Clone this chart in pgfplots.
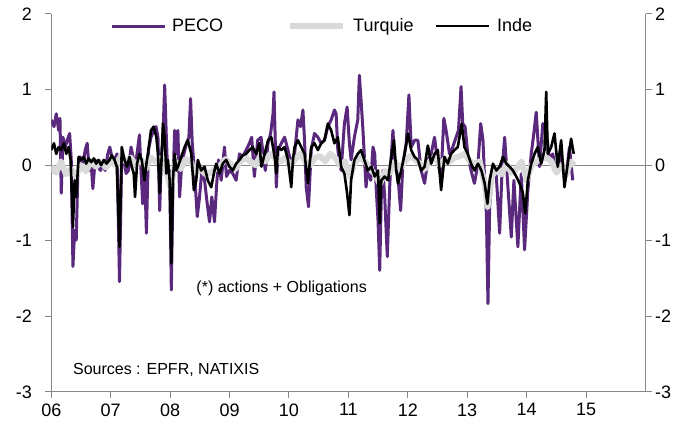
\documentclass[border=0pt]{standalone}
\usepackage{pgfplots}
\pgfplotsset{compat=1.18}
\usepackage{pgfplotstable}
\usepackage{fontspec}
\setmainfont{Liberation Sans}
\definecolor{peco}{RGB}{90,40,125}
\definecolor{turq}{RGB}{217,217,217}
\definecolor{axgray}{RGB}{134,134,134}

% x column: horizontal position (px), converted to years below
\pgfplotstableread{
px v
51.3 0.60
54 0.51
56.3 0.68
58.7 0.46
60 0.62
61.3 -0.37
63 0.37
65.3 0.24
67.3 0.33
69.7 0.42
71.3 0.07
73 -1.34
74.7 -0.86
76.3 -0.99
78 -0.07
80.3 0.11
83 0.02
85.3 0.20
87.3 0.29
89.3 -0.07
91.3 0.02
93 -0.31
95.3 0.07
98 -0.02
100.7 -0.07
103 0.02
105.3 -0.07
108 0.15
110 0.24
112 0.11
114.7 0.07
117.3 0.15
119.7 -1.54
122 0.15
124 0.11
126.3 -0.11
128.7 -0.07
131.3 0.24
133.3 0.11
135.3 -0.02
137.3 0.15
139.7 0.40
141.3 -0.07
143 -0.51
144.7 0.02
146.7 -0.90
148.7 0.20
151.3 0.37
154 0.46
156.3 0.51
158.3 0.37
160 -0.60
161.7 0.11
163.3 0.37
165 1.06
166.7 0.37
168.3 -0.20
170 -0.07
171.7 -1.65
173.3 -0.29
175 0.46
176.7 0.15
178.3 0.46
180 -0.42
181.7 -0.07
184.3 0.15
187 0.29
189.3 0.37
191 0.88
192.7 0.29
195 -0.11
197.7 -0.68
200 -0.42
202.3 -0.07
205 -0.20
207.7 -0.51
210 -0.75
212.3 -0.42
215 -0.75
217 -0.29
219 0.07
221.7 -0.20
225 0.24
227 -0.15
230 -0.07
233.3 -0.11
236.7 -0.20
240 0.15
243.3 0.11
246.7 0.20
250 0.29
252.3 0.37
255 -0.15
258.3 0.33
261.7 0.37
263.7 0.15
266 -0.07
268.7 0.29
271.3 0.42
273.7 0.68
274.7 0.97
276 0.29
277 -0.29
278.7 0.20
282 0.29
285.3 0.37
288.7 0.20
292 0.02
295.3 0.15
298.7 0.60
301.3 0.51
303.7 0.73
305.3 0.33
307 -0.29
309.3 -0.55
312 0.20
315.3 0.42
318.7 0.37
322 0.29
325.3 0.33
328.7 0.51
332 0.60
335.3 0.73
337 0.68
338.7 0.20
342 -0.07
345.3 0.55
348 0.77
350.3 0.29
352 0.07
355.3 0.37
358.7 0.60
360.3 1.19
362 0.86
363.7 0.51
367 -0.29
369 -0.02
371.7 -0.20
374 0.24
375.7 0.15
377.3 -0.33
379 -0.73
380.7 -1.39
382.3 -0.42
384 -0.07
385.7 -0.42
388.3 -1.21
390.7 -0.29
392.3 0.11
394 0.46
395.7 0.02
399 -0.15
401.7 -0.60
404 0.02
407.3 0.29
410 0.93
412.3 0.24
415.7 0.33
419 0.33
422.3 -0.07
425.7 -0.24
429 0.07
432.3 0.15
435.7 0.37
439 0.02
442.3 -0.15
445 0.62
447.3 0.46
450.7 0.15
454 0.24
457.3 0.37
459.7 0.46
462.3 1.04
464 0.55
466.3 0.51
469 0.15
472.3 -0.07
475.7 -0.24
479.3 0.02
482 0.55
484.3 0.33
486 -0.20
487.7 -0.64
489.3 -1.83
491 -0.55
494.3 -0.02
497.7 -0.15
501 -0.90
503.3 -0.11
506 0.37
509.3 -0.29
512.7 -0.95
515.3 -0.20
519.3 -1.08
522.7 -0.11
526 -1.12
529.3 -0.33
532.7 0.15
535.3 0.42
537.7 0.70
541 -0.02
544.3 0.55
547.7 0.46
551 0.07
554.3 0.15
557.7 -0.11
561 0.11
564.3 0.02
567.7 -0.15
571 0.24
574.3 -0.20
}\pecotable

\pgfplotstableread{
px v
51 -0.02
56 -0.10
61 0.05
66 -0.12
71 -0.05
76 -0.15
81 0.00
86 -0.08
91 0.05
96 -0.02
101 0.04
106 -0.03
111 0.05
116 0.00
121 0.12
126 0.05
131 0.10
136 0.00
141 0.08
146 -0.05
151 0.10
156 0.05
161 0.10
166 -0.05
171 -0.30
176 0.05
181 -0.05
186 0.08
191 0.05
196 -0.10
201 -0.05
206 -0.12
211 -0.10
216 -0.05
221 0.00
226 0.08
231 0.02
236 -0.05
241 0.05
246 0.10
251 0.05
256 0.00
261 0.12
266 0.05
271 0.15
276 0.10
281 0.05
286 0.10
291 0.00
296 0.08
301 0.15
306 0.05
311 0.00
316 0.10
321 0.12
326 0.05
331 0.15
336 0.10
341 0.00
346 0.05
351 -0.15
356 0.05
361 0.10
366 0.05
371 -0.05
376 -0.12
381 -0.25
386 -0.08
391 -0.10
396 0.05
401 -0.05
406 0.05
411 0.12
416 0.08
421 0.02
426 -0.05
431 0.05
436 0.10
441 0.00
446 0.08
451 0.05
456 0.10
461 0.12
466 0.15
471 0.05
476 0.02
481 0.05
486 -0.25
489 -0.55
493 -0.15
498 -0.05
503 -0.12
508 0.02
513 -0.10
518 -0.05
523 0.05
528 -0.20
533 0.00
538 0.05
543 0.08
548 0.10
553 0.05
558 -0.10
563 0.00
568 -0.12
572 0.05
576 0.00
}\turqtable

\pgfplotstableread{
px v
51.3 0.20
54 0.29
56.3 0.15
58.7 0.24
61.3 0.20
64 0.29
66.3 0.15
68.7 0.24
70.7 0.07
73 -0.82
74.7 -0.20
76.3 -0.42
78.7 0.11
81.3 0.07
84 0.11
86.3 0.02
88.7 0.09
91.3 0.04
94 0.09
96.3 0.02
98.7 0.07
101.3 0.00
104 0.07
106.7 0.02
109.7 0.07
112 0.13
114.7 0.07
117 -0.02
119.7 -1.08
122 0.24
124.7 0.07
127.3 -0.02
129.7 0.11
132 -0.02
134 -0.11
135.3 -0.42
137.3 0.02
139.7 0.15
142 0.07
144.7 -0.20
146.7 0.02
148.7 0.20
151.3 0.46
154 0.51
156.7 0.37
158.3 0.15
160 -0.37
161.7 0.02
163.3 0.55
165 0.37
166.7 -0.11
168.3 0.07
170 -0.20
171.7 -1.30
173.3 -0.20
175 0.15
176.7 -0.07
178.3 -0.02
181.7 0.11
185 0.24
188.3 0.33
191.7 0.15
194.3 -0.33
196.7 -0.20
198.3 0.07
201.7 -0.07
205 -0.02
208.3 -0.20
211.7 -0.29
215 -0.07
216.7 0.02
220 -0.11
223.3 0.02
226.7 0.07
230 -0.02
233.3 -0.07
236.7 0.02
240 0.07
243.3 0.13
246.7 0.15
250 0.20
253.3 0.24
256.7 0.15
260 0.29
262 -0.02
265.3 0.15
268.7 0.33
272 0.37
275.3 0.11
277 -0.11
278.7 0.24
282 0.20
285.3 0.24
288.7 0.07
292 -0.29
293.7 0.07
295.3 0.24
298.7 0.33
302 0.24
305.3 0.15
308.7 -0.24
312 0.24
315.3 0.29
318.7 0.20
322 0.29
325.3 0.33
328.7 0.55
332 0.46
335.3 0.29
338.7 0.37
342 -0.02
345.3 -0.11
348 -0.37
350.3 -0.66
352 -0.20
355.3 0.07
358.7 0.15
362 0.20
365.3 0.07
368.7 -0.07
372.3 -0.02
375.7 -0.15
379 -0.07
380.7 -0.77
382.3 -0.20
385.7 -0.15
389 -0.20
392.3 0.11
395 0.33
397.3 -0.07
399 -0.24
402.3 -0.07
405.7 0.15
409 0.42
412.3 0.20
415.7 0.11
419 0.07
422.3 -0.07
425.7 -0.02
429 0.26
432.3 0.02
435.7 0.15
439 0.20
442.3 -0.33
445.7 0.11
449 0.02
452.3 0.15
455.7 0.20
459 0.24
463 0.55
465.7 0.24
469 0.15
472.3 0.02
475.7 -0.07
479.3 0.02
482.7 -0.07
486 -0.24
488.7 -0.51
491 -0.20
494.3 0.02
497.7 -0.07
501 -0.02
504.3 0.11
507.7 0.02
511 -0.02
514.3 -0.07
517.7 -0.15
521 -0.24
524.3 -0.37
526.7 -0.64
529.3 -0.20
532.7 0.02
536 0.15
539.3 0.24
542.7 0.02
546 0.20
547.7 0.97
549.3 0.15
552.7 0.24
556 0.42
559.3 -0.02
562.7 0.33
566 -0.29
569.3 0.02
572.7 0.35
575.3 0.15
}\indetable

\begin{document}
\begin{tikzpicture}
\useasboundingbox (-51.3pt,-38pt) rectangle (639.7pt,392pt);
\pgfplotsset{common/.style={
  at={(0pt,0pt)}, anchor=south west,
  scale only axis, width=594.2pt, height=378pt,
  xmin=2006, xmax=2016, ymin=-3, ymax=2,
  ytick={-3,-2,-1,0,1,2},
  tick align=outside, major tick length=6pt,
  axis line style={axgray, line width=1pt},
  every tick/.style={axgray, line width=1pt},
  tick label style={font=\fontsize{18}{18}\selectfont, text=black},
  /pgf/number format/assume math mode=true,
}}
\begin{axis}[common,
  axis x line*=bottom, axis y line*=left,
  xtick={2006,2007,2008,2009,2010,2011,2012,2013,2014,2015},
  xticklabels={06,07,08,09,10,11,12,13,14,15},
  yticklabel style={xshift=-10pt},
  xticklabel style={yshift=-2pt},
  legend columns=3,
  legend style={at={(0.0988,0.968)}, anchor=west, draw=none, fill=none,
    inner sep=0pt, font=\fontsize{18}{18}\selectfont,
    /tikz/column 1/.style={column sep=4pt},
    /tikz/column 2/.style={column sep=62pt},
    /tikz/column 3/.style={column sep=5pt},
    /tikz/column 4/.style={column sep=19pt},
    /tikz/column 5/.style={column sep=5pt}},
  legend image code/.code={\draw[#1] (0pt,0pt) -- (53pt,0pt);},
  line join=round,
]
\addplot[axgray, line width=1pt, forget plot] coordinates {(2006,0) (2016,0)};
\addplot[peco, line width=3pt] table[x expr={2006+(\thisrow{px}-51.3)/59.6}, y=v] {\pecotable};
\addlegendentry{PECO}
\addplot[turq, line width=6pt] table[x expr={2006+(\thisrow{px}-51.3)/59.6}, y=v] {\turqtable};
\addlegendentry{Turquie}
\addplot[black, line width=2.6pt] table[x expr={2006+(\thisrow{px}-51.3)/59.6}, y=v] {\indetable};
\addlegendentry{Inde}
\node[anchor=west, inner sep=0pt, font=\fontsize{16}{16}\selectfont] at (axis cs:2008.44,-1.627) {(*) actions + Obligations};
\node[anchor=west, inner sep=0pt, font=\fontsize{16}{16}\selectfont] at (axis cs:2006.364,-2.71) {Sources : EPFR, NATIXIS};
\end{axis}
\begin{axis}[common, hide x axis, axis y line*=right]
\end{axis}
\end{tikzpicture}
\end{document}
